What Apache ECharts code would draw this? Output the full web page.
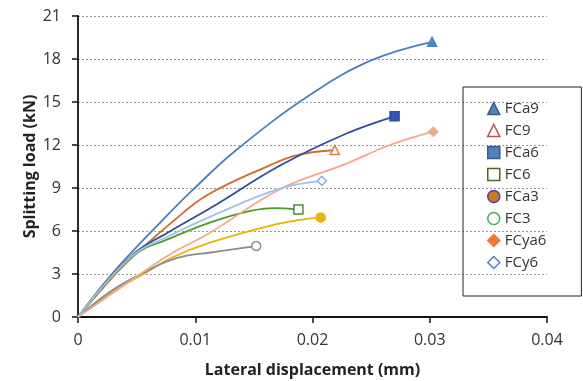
<!DOCTYPE html>
<html>
<head>
<meta charset="utf-8">
<script src="https://cdn.jsdelivr.net/npm/echarts@6/dist/echarts.min.js"></script>
<style>
  html, body { margin: 0; padding: 0; background: #fff; }
  #chart { width: 583px; height: 381px; }
</style>
</head>
<body>
<div id="chart"></div>
<script>
// series names, in legend order
const seriesNames = ['FCa9', 'FC9', 'FCa6', 'FC6', 'FCa3', 'FC3', 'FCya6', 'FCy6'];

// [lateral displacement (mm), splitting load (kN)]
const fca9 = [[0, 0], [0.003, 3.1], [0.0075, 7.0], [0.0097, 8.8], [0.0135, 11.65], [0.0198, 15.5], [0.025, 17.9], [0.0302, 19.2]];
const fc9 = [[0, 0], [0.0032, 3.0], [0.0048, 4.3], [0.008, 6.6], [0.011, 8.5], [0.0164, 10.6], [0.0187, 11.3], [0.0219, 11.65]];
const fca6 = [[0, 0], [0.0046, 4.3], [0.0079, 6.0], [0.0113, 7.6], [0.0172, 10.55], [0.0229, 12.8], [0.027, 14.0]];
const fc6 = [[0, 0], [0.0046, 4.2], [0.0079, 5.5], [0.0113, 6.6], [0.0147, 7.4], [0.0167, 7.6], [0.0188, 7.5]];
const fca3 = [[0, 0], [0.0028, 1.7], [0.0056, 3.0], [0.0079, 4.1], [0.0113, 5.2], [0.0165, 6.4], [0.0189, 6.77], [0.0207, 6.95]];
const fc3 = [[0, 0], [0.0028, 1.8], [0.0056, 3.1], [0.0084, 4.1], [0.0113, 4.5], [0.0152, 4.95]];
const fcya6 = [[0, 0], [0.0055, 3.1], [0.0079, 4.4], [0.0113, 5.9], [0.0172, 8.9], [0.0229, 10.7], [0.0266, 12.0], [0.0303, 12.93]];
const fcy6 = [[0, 0], [0.0046, 4.25], [0.0079, 5.7], [0.0113, 7.0], [0.0172, 8.95], [0.0208, 9.5]];

const seriesData = [fca9, fc9, fca6, fc6, fca3, fc3, fcya6, fcy6];

// line colour, end marker shape, end marker fill / border
const lineColors = ['#4A7EBB', '#D4692A', '#2B4C9E', '#4C9A2A', '#E8B400', '#8C8C8C', '#F4A88A', '#9DC3E6'];
const endSymbols = ['triangle', 'triangle', 'rect', 'rect', 'circle', 'circle', 'diamond', 'diamond'];
const endFills = ['#4A86C8', '#fff', '#3355BB', '#fff', '#F0B400', '#fff', '#F4A88A', '#fff'];
const endBorders = ['#4A86C8', '#E07A40', '#2B4C9E', '#4C8A3A', '#F0B400', '#909090', '#F4A88A', '#8DB4E2'];

// legend icons look a bit different from the end markers
const legendFills = ['#4F81BD', '#fff', '#4F81BD', '#fff', '#C08020', '#fff', '#F07830', '#fff'];
const legendBorders = ['#385D8A', '#C0504D', '#385D8A', '#4F6228', '#7030A0', '#40B050', '#F07830', '#4F81BD'];

const font = '"Open Sans", sans-serif';

const chart = echarts.init(document.getElementById('chart'));

const series = seriesNames.map((name, i) => {
  const last = seriesData[i].length - 1;
  return {
    name: name,
    type: 'line',
    smooth: 0.4,
    data: seriesData[i],
    symbol: endSymbols[i],
    symbolSize: (val, params) => (params.dataIndex === last ? 9 : 0),
    showSymbol: true,
    lineStyle: { color: lineColors[i], width: 1.8 },
    itemStyle: { color: endFills[i], borderColor: endBorders[i], borderWidth: 1.5 },
    emphasis: { disabled: true },
    z: 3
  };
});

const option = {
  animation: false,
  grid: { left: 78, right: 36, top: 16, bottom: 64, outerBoundsMode: 'none' },
  xAxis: {
    type: 'value',
    min: 0,
    max: 0.04,
    interval: 0.01,
    name: 'Lateral displacement (mm)',
    nameLocation: 'middle',
    nameGap: 45,
    nameTextStyle: { fontFamily: font, fontWeight: 'bold', fontSize: 16, color: '#222' },
    axisLine: { lineStyle: { color: '#111', width: 1.8 } },
    axisTick: { show: true, length: 6, inside: false, lineStyle: { color: '#111', width: 1.5 } },
    axisLabel: {
      fontFamily: font, fontSize: 16, color: '#333', margin: 15,
      formatter: v => (v === 0 ? '0' : v.toFixed(2))
    },
    splitLine: { show: false }
  },
  yAxis: {
    type: 'value',
    min: 0,
    max: 21,
    interval: 3,
    name: 'Splitting load (kN)',
    nameLocation: 'middle',
    nameGap: 40,
    nameMoveOverlap: false,
    nameTextStyle: { fontFamily: font, fontWeight: 'bold', fontSize: 16, color: '#222' },
    axisLine: { show: true, lineStyle: { color: '#111', width: 1.8 } },
    axisTick: { show: true, length: 6, lineStyle: { color: '#111', width: 1.5 } },
    axisLabel: { fontFamily: font, fontSize: 16, color: '#333', margin: 17 },
    splitLine: { show: true, lineStyle: { color: '#999', type: [2, 2], width: 1 } }
  },
  legend: {
    orient: 'vertical',
    left: 463,
    top: 87,
    padding: [14, 35, 26, 24],
    itemWidth: 12,
    itemHeight: 12,
    itemGap: 7,
    borderColor: '#222',
    borderWidth: 1,
    textStyle: { fontFamily: font, fontSize: 15, color: '#333' },
    data: seriesNames.map((name, i) => ({
      name: name,
      icon: endSymbols[i],
      itemStyle: { color: legendFills[i], borderColor: legendBorders[i], borderWidth: 1.5 }
    }))
  },
  series: series
};

chart.setOption(option);
</script>
</body>
</html>
